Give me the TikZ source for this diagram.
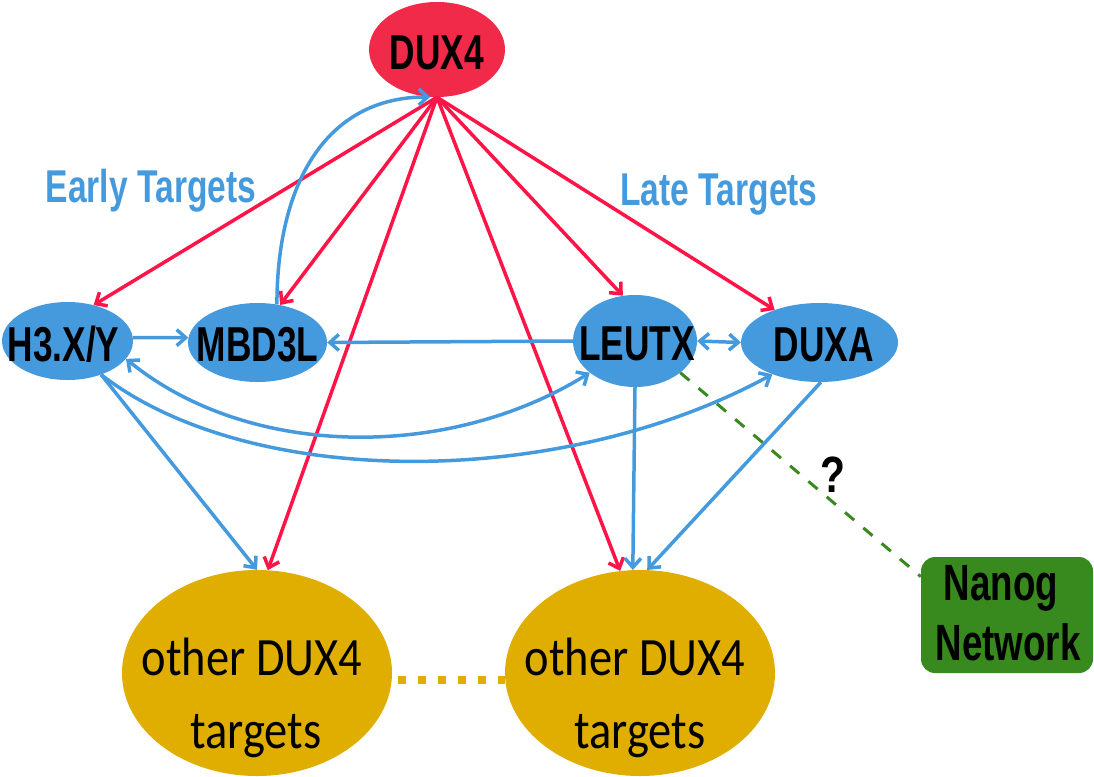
\documentclass[tikz,border=0pt]{standalone}
\usepackage{fontspec}
\setmainfont{Liberation Sans}
\newfontfamily\carl{Carlito}
\usetikzlibrary{shapes.geometric,arrows.meta}
\definecolor{duxred}{HTML}{F02A48}
\definecolor{redline}{HTML}{FF1447}
\definecolor{bluec}{HTML}{459ADE}
\definecolor{goldc}{HTML}{DFAE00}
\definecolor{greenc}{HTML}{388A1E}
\newcommand{\nar}[2][0.72]{\scalebox{#1}[1]{#2}}
\begin{document}
\begin{tikzpicture}[x=1pt,y=-1pt,
  ell/.style={ellipse, inner sep=0pt, draw=none},
  blueell/.style={ell, fill=bluec},
  lab/.style={inner sep=0pt, text=black, font=\fontsize{49}{52}\selectfont\bfseries, yshift=-2pt},
  ttl/.style={inner sep=0pt, anchor=base, text=bluec, font=\fontsize{46}{50}\selectfont\bfseries},
  tgt/.style={inner sep=0pt, anchor=base, text=black, font=\fontsize{54}{58}\selectfont\carl},
  ntx/.style={inner sep=0pt, anchor=base, text=black, font=\fontsize{51}{54}\selectfont\bfseries},
  barb/.tip={Straight Barb[length=9pt,width=16pt]},
  redarr/.style={draw=redline, line width=3.5pt, -barb},
  bluearr/.style={draw=bluec, line width=3.5pt, -barb},
  bluedbl/.style={draw=bluec, line width=3.5pt, barb-barb}
]
\useasboundingbox (0,0) rectangle (1094,776);

% nodes
\node[ell, fill=duxred, minimum width=136pt, minimum height=95pt,
      label={[lab, yshift=-1pt]center:\nar{DUX4}}] (dux) at (437,49.5) {};
\node[blueell, minimum width=131pt, minimum height=78pt,
      label={[lab, xshift=-4pt, yshift=-1pt]center:\nar{H3.X/Y}}] (h3) at (67.5,341) {};
\node[blueell, minimum width=139pt, minimum height=79pt,
      label={[lab]center:\nar{MBD3L}}] (mbd) at (257.5,342.5) {};
\node[blueell, minimum width=124pt, minimum height=92pt,
      label={[lab, xshift=2pt, yshift=-1pt]center:\nar{LEUTX}}] (leutx) at (635,341) {};
\node[blueell, minimum width=157pt, minimum height=79pt,
      label={[lab, xshift=4pt]center:\nar{DUXA}}] (duxa) at (819.5,342.5) {};
\node[ell, fill=goldc, minimum width=270pt, minimum height=206pt] (t1) at (257,673) {};
\node[ell, fill=goldc, minimum width=270pt, minimum height=206pt] (t2) at (640,673) {};
\node[rectangle, rounded corners=14pt, fill=greenc, inner sep=0pt,
      minimum width=172pt, minimum height=116pt] (nanog) at (1007,615) {};

% texts
\node[ttl] (early) at (151,202) {\nar[0.73]{Early Targets}};
\node[ttl] (late) at (719,205) {\nar[0.73]{Late Targets}};
\node[tgt] (t1a) at (252,675) {\nar[0.86]{other DUX4}};
\node[tgt] (t1b) at (256,748) {\nar[0.86]{targets}};
\node[tgt] (t2a) at (635,675) {\nar[0.86]{other DUX4}};
\node[tgt] (t2b) at (640,748) {\nar[0.86]{targets}};
\node[ntx] (nan1) at (1001,600) {\nar{Nanog}};
\node[ntx] (nan2) at (1008,660) {\nar{Network}};
\node[ntx] (q) at (833,492) {\nar[0.8]{?}};

% gold dotted link
\draw[goldc, line width=8pt, dash pattern=on 8pt off 12pt, shorten <=6pt] (t1.-3) -- (t2.183);

% green dashed link
\draw[greenc, line width=3pt, dash pattern=on 12pt off 12pt] (leutx.-35) -- (nanog.156);

% red arrows from DUX4
\draw[redarr] (dux.south) -- (h3.54);
\draw[redarr] (dux.south) -- (mbd.59);
\draw[redarr] (dux.south) -- (leutx.105);
\draw[redarr] (dux.south) -- (duxa.144);
\draw[redarr] (dux.south) -- (t1.84);
\draw[redarr] (dux.south) -- (t2.101);

% blue arrows
\draw[bluearr] (mbd.63) .. controls (277,185) and (325,97) .. (dux.262);
\draw[bluearr] (h3.3) -- (mbd.176);
\draw[bluearr] (leutx.west) -- (mbd.east);
\draw[bluedbl] (leutx.east) -- (duxa.west);
\draw[bluedbl] (h3.-17) .. controls (250,460) and (450,460) .. (leutx.215);
\draw[bluearr] (h3.-45) .. controls (250,490) and (560,490) .. (duxa.214);
\draw[bluearr] (h3.-45) -- (t1.90);
\draw[bluearr] (leutx.south) -- (t2.94);
\draw[bluearr] (duxa.-88) -- (t2.86);
\end{tikzpicture}
\end{document}
